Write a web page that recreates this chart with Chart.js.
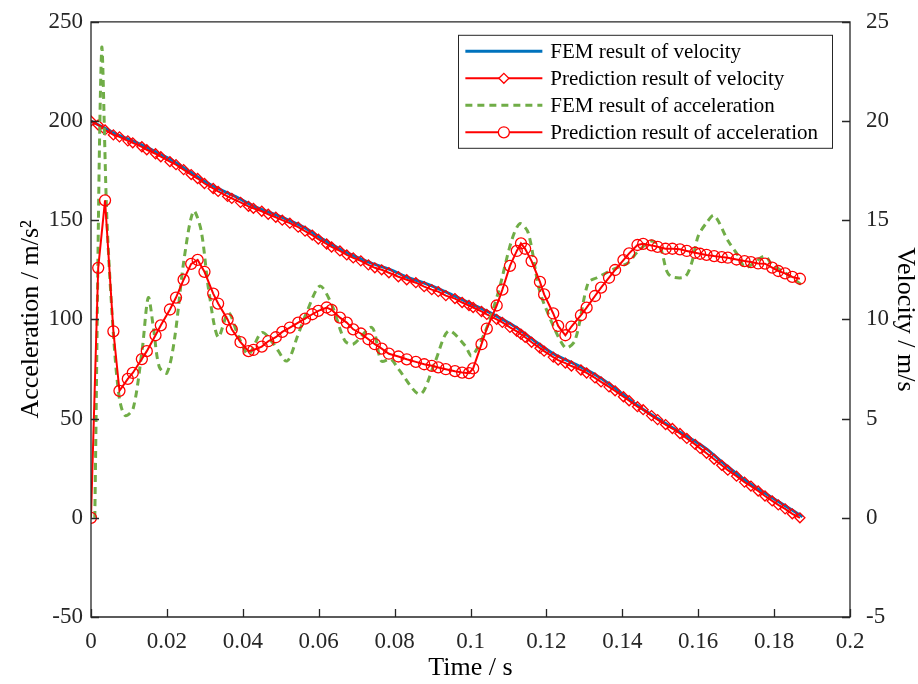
<!DOCTYPE html>
<html>
<head>
<meta charset="utf-8">
<script src="https://cdn.jsdelivr.net/npm/chart.js@4.4.1/dist/chart.umd.min.js"></script>
<style>
  html, body { margin: 0; padding: 0; background: #fff; }
  #wrap { width: 918px; height: 684px; }
</style>
</head>
<body>
<div id="wrap"><canvas id="velChart" width="918" height="684"></canvas></div>
<script>
// Data
// **************************************
const xTicks = [0, 0.02, 0.04, 0.06, 0.08, 0.1, 0.12, 0.14, 0.16, 0.18, 0.2];
const accelTicks = [-50, 0, 50, 100, 150, 200, 250];
const velTicks = [-5, 0, 5, 10, 15, 20, 25];

const seriesLabels = [
  'FEM result of velocity',
  'Prediction result of velocity',
  'FEM result of acceleration',
  'Prediction result of acceleration',
];

// FEM velocity (m/s)
const femVelTime = [0, 0.004, 0.007, 0.011, 0.015, 0.018, 0.022, 0.026, 0.03, 0.034, 0.038, 0.043,
  0.049, 0.056, 0.061, 0.067, 0.073, 0.079, 0.083, 0.089, 0.095, 0.1, 0.106, 0.112, 0.117, 0.122,
  0.127, 0.133, 0.138, 0.143, 0.148, 0.154, 0.158, 0.162, 0.167, 0.172, 0.1775, 0.183, 0.1875];
const femVel = [20.0, 19.6, 19.3, 19.0, 18.65, 18.35, 17.95, 17.45, 16.95, 16.55, 16.2, 15.7,
  15.25, 14.65, 14.05, 13.4, 12.9, 12.5, 12.15, 11.75, 11.25, 10.8, 10.25, 9.6, 8.9, 8.25,
  7.8, 7.2, 6.55, 5.8, 5.15, 4.45, 4.0, 3.5, 2.7, 1.95, 1.25, 0.6, 0.05];

// FEM acceleration (m/s^2)
const femAccTime = [0.001, 0.0028, 0.0042, 0.006, 0.0075, 0.009, 0.0111, 0.0135, 0.0151, 0.0165,
  0.018, 0.02, 0.022, 0.0245, 0.027, 0.029, 0.031, 0.0335, 0.0362, 0.0388, 0.0415, 0.045, 0.048,
  0.0516, 0.0545, 0.0568, 0.0603, 0.0634, 0.0669, 0.0691, 0.074, 0.0765, 0.079, 0.081, 0.0867,
  0.0906, 0.0942, 0.0986, 0.1003, 0.1038, 0.1073, 0.1108, 0.113, 0.1152, 0.1179, 0.1196, 0.1249,
  0.1275, 0.131, 0.1333, 0.1376, 0.1416, 0.1438, 0.1477, 0.15, 0.1517, 0.153, 0.1565, 0.1583,
  0.16, 0.1622, 0.1642, 0.1679, 0.1706, 0.1723, 0.1741, 0.1776, 0.1794, 0.1829, 0.1877];
const femAcc = [0, 236, 150, 90, 60, 51.5, 55, 85, 111, 95,
  76, 73, 90, 130, 154.6, 145, 115, 91, 103.4, 91.7, 82.4, 93.4, 88,
  79, 92, 103.4, 116.8, 107.6, 89.2, 87.5, 95.9, 79, 80, 75, 62.3,
  78.3, 94.2, 86.7, 81.6, 93.4, 113.5, 139.5, 148.3, 143.7, 116.8, 106.8, 85.8,
  89.2, 118.5, 121, 125.2, 128.6, 133.6, 139.5, 136.1, 124.4, 121.5, 121.5, 128.6,
  142, 148.7, 152.4, 139.5, 131.9, 126, 127.7, 131.9, 127.7, 123.5, 116.8];

// Prediction samples (shared time base)
const predTime = [0, 0.0019, 0.0037, 0.0059, 0.0075, 0.0097, 0.011, 0.0134, 0.0147, 0.017,
  0.0184, 0.0208, 0.0224, 0.0244, 0.0264, 0.0281, 0.0299, 0.0322, 0.0335, 0.036,
  0.0371, 0.0394, 0.0415, 0.0428, 0.045, 0.0467, 0.0487, 0.0504, 0.0524, 0.0546,
  0.0564, 0.0583, 0.0599, 0.0621, 0.0634, 0.0656, 0.0674, 0.0691, 0.0711, 0.0731,
  0.0748, 0.0766, 0.0785, 0.081, 0.0832, 0.0856, 0.0878, 0.0898, 0.0915, 0.0935,
  0.0959, 0.0978, 0.0996, 0.1007, 0.1029, 0.1043, 0.1069, 0.1084, 0.1104, 0.1122,
  0.1133, 0.1144, 0.1161, 0.1183, 0.1194, 0.1218, 0.1231, 0.125, 0.1266, 0.1291,
  0.1306, 0.1328, 0.1344, 0.1365, 0.1381, 0.1403, 0.1418, 0.144, 0.1455, 0.1477,
  0.1493, 0.1514, 0.1532, 0.1552, 0.157, 0.1592, 0.1605, 0.1622, 0.1642, 0.1662,
  0.1678, 0.1701, 0.1722, 0.1739, 0.1758, 0.1776, 0.1795, 0.1811, 0.1829, 0.1848, 0.1868];
const predAcc = [0, 126, 160, 94, 64, 70, 73, 80, 84, 92,
  97, 105, 111, 120, 128, 130, 124, 113, 108, 100,
  95, 88.5, 84, 84.6, 86.3, 89, 91, 93.7, 95.9, 98.4,
  100.4, 102.6, 104.3, 106, 104.8, 100.9, 98.4, 95, 92.9, 90,
  87.5, 85.3, 82.7, 81.3, 79.9, 78.6, 77.4, 76.6, 75.8, 74.9,
  73.9, 73.2, 72.9, 75.3, 87.5, 95.4, 107, 115, 127, 134.5,
  138.3, 135.6, 129.4, 118.9, 112.6, 103, 96.7, 92, 96.4, 102.1,
  105.9, 111.8, 116, 121, 124.9, 129.9, 133.3, 137.5, 138.1, 137.3,
  136.6, 135.6, 135.6, 135.3, 134.5, 133.6, 133.1, 132.5, 131.9, 131.4,
  131.1, 130.2, 129.4, 128.9, 128.2, 128.1, 126.1, 124.4, 123.2, 121.4, 120.5];
const predVel = [20.0, 19.8, 19.55, 19.3, 19.2, 19.0, 18.9, 18.7, 18.55, 18.35,
  18.2, 17.95, 17.8, 17.55, 17.3, 17.1, 16.85, 16.6, 16.45, 16.2,
  16.1, 15.9, 15.7, 15.6, 15.45, 15.3, 15.15, 15.0, 14.85, 14.65,
  14.45, 14.25, 14.05, 13.8, 13.65, 13.45, 13.25, 13.1, 12.95, 12.75,
  12.6, 12.5, 12.35, 12.15, 12.0, 11.85, 11.65, 11.5, 11.4, 11.2,
  11.05, 10.85, 10.7, 10.6, 10.4, 10.25, 10.0, 9.85, 9.6, 9.4,
  9.25, 9.1, 8.85, 8.55, 8.4, 8.1, 7.95, 7.8, 7.65, 7.45,
  7.3, 7.05, 6.85, 6.6, 6.4, 6.1, 5.9, 5.6, 5.45, 5.15,
  4.95, 4.7, 4.5, 4.25, 4.0, 3.7, 3.5, 3.25, 2.95, 2.65,
  2.4, 2.1, 1.8, 1.6, 1.35, 1.1, 0.85, 0.65, 0.45, 0.2, 0.0];

const toPoints = (xs, ys) => xs.map((x, i) => ({ x: x, y: ys[i] }));

const AXIS_COLOR = '#262626';
const SERIF = "'Liberation Serif', 'Times New Roman', serif";

// Box + inward ticks like MATLAB
// **************************************
const matlabAxes = {
  id: 'matlabAxes',
  afterDatasetsDraw(chart) {
    const { ctx, chartArea: a, scales } = chart;
    const tl = 8;
    ctx.save();
    ctx.strokeStyle = AXIS_COLOR;
    ctx.lineWidth = 1.3;
    ctx.beginPath();
    ctx.rect(a.left, a.top, a.right - a.left, a.bottom - a.top);
    ctx.stroke();
    ctx.beginPath();
    scales.x.ticks.forEach((t) => {
      const px = Math.round(scales.x.getPixelForValue(t.value)) + 0.5;
      ctx.moveTo(px, a.bottom);
      ctx.lineTo(px, a.bottom - tl);
    });
    scales.y.ticks.forEach((t) => {
      const py = Math.round(scales.y.getPixelForValue(t.value)) + 0.5;
      ctx.moveTo(a.left, py);
      ctx.lineTo(a.left + tl, py);
    });
    scales.y1.ticks.forEach((t) => {
      const py = Math.round(scales.y1.getPixelForValue(t.value)) + 0.5;
      ctx.moveTo(a.right, py);
      ctx.lineTo(a.right - tl, py);
    });
    ctx.stroke();
    ctx.restore();
  },
};

// Legend drawn inside the axes (top right)
// **************************************
const insideLegend = {
  id: 'insideLegend',
  afterDraw(chart) {
    const { ctx, chartArea: a } = chart;
    const items = chart.data.datasets;
    const rowH = 27;
    const sampleW = 77;
    ctx.save();
    ctx.font = '21px ' + SERIF;
    const textW = Math.max(...items.map((d) => ctx.measureText(d.label).width));
    const w = 7 + sampleW + 8 + textW + 14;
    const h = items.length * rowH + 5;
    const x0 = a.right - 18 - w;
    const y0 = a.top + 13;
    ctx.fillStyle = '#fff';
    ctx.fillRect(x0, y0, w, h);
    ctx.strokeStyle = AXIS_COLOR;
    ctx.lineWidth = 1;
    ctx.strokeRect(Math.round(x0) + 0.5, y0 + 0.5, Math.round(w), h);
    items.forEach((d, i) => {
      const cy = y0 + 3 + rowH * i + rowH / 2;
      const sx0 = x0 + 7;
      const sx1 = sx0 + sampleW;
      ctx.strokeStyle = d.borderColor;
      ctx.lineWidth = d.borderWidth;
      ctx.setLineDash(d.borderDash || []);
      ctx.beginPath();
      ctx.moveTo(sx0, cy);
      ctx.lineTo(sx1, cy);
      ctx.stroke();
      ctx.setLineDash([]);
      if (d.pointRadius > 0) {
        ctx.strokeStyle = d.pointBorderColor;
        ctx.fillStyle = '#fff';
        ctx.lineWidth = d.pointBorderWidth;
        Chart.helpers.drawPoint(ctx, {
          pointStyle: d.pointStyle,
          radius: d.pointRadius,
          rotation: 0,
          borderWidth: d.pointBorderWidth,
        }, (sx0 + sx1) / 2, cy);
      }
      ctx.fillStyle = '#000';
      ctx.textBaseline = 'middle';
      ctx.textAlign = 'left';
      ctx.fillText(d.label, sx1 + 8, cy + 1);
    });
    ctx.restore();
  },
};

const tickCallback = (value) => String(Number(value.toFixed(4)));

const config = {
  type: 'line',
  data: {
    datasets: [
      {
        label: seriesLabels[0],
        data: toPoints(femVelTime, femVel),
        yAxisID: 'y1',
        borderColor: '#0072BD',
        borderWidth: 3,
        pointRadius: 0,
        tension: 0.3,
        order: 4,
      },
      {
        label: seriesLabels[1],
        data: toPoints(predTime, predVel),
        yAxisID: 'y1',
        borderColor: '#FF0000',
        borderWidth: 2,
        pointStyle: 'rectRot',
        pointRadius: 5,
        pointBorderWidth: 1.3,
        pointBorderColor: '#FF0000',
        pointBackgroundColor: 'rgba(255,255,255,0)',
        tension: 0,
        order: 3,
      },
      {
        label: seriesLabels[2],
        data: toPoints(femAccTime, femAcc),
        yAxisID: 'y',
        borderColor: '#70AD47',
        borderWidth: 3,
        borderDash: [7, 5],
        pointRadius: 0,
        tension: 0.3,
        order: 2,
      },
      {
        label: seriesLabels[3],
        data: toPoints(predTime, predAcc),
        yAxisID: 'y',
        borderColor: '#FF0000',
        borderWidth: 2,
        pointStyle: 'circle',
        pointRadius: 5.5,
        pointBorderWidth: 1.3,
        pointBorderColor: '#FF0000',
        pointBackgroundColor: 'rgba(255,255,255,0)',
        tension: 0,
        order: 1,
      },
    ],
  },
  options: {
    responsive: false,
    animation: false,
    devicePixelRatio: 1,
    layout: { padding: { top: 18, left: 0, right: 0, bottom: 0 } },
    plugins: {
      legend: { display: false },
      tooltip: { enabled: false },
    },
    scales: {
      x: {
        type: 'linear',
        min: 0,
        max: 0.2,
        afterBuildTicks: (s) => { s.ticks = xTicks.map((v) => ({ value: v })); },
        afterFit: (s) => { s.height = 67; },
        grid: { display: false },
        border: { display: false },
        ticks: {
          callback: tickCallback,
          color: AXIS_COLOR,
          font: { family: SERIF, size: 23 },
          padding: 3,
          maxRotation: 0,
          autoSkip: false,
        },
        title: {
          display: true,
          text: 'Time / s',
          color: '#000',
          font: { family: SERIF, size: 26, lineHeight: 1.2 },
          padding: { top: 0, bottom: 0 },
        },
      },
      y: {
        position: 'left',
        min: -50,
        max: 250,
        afterBuildTicks: (s) => { s.ticks = accelTicks.map((v) => ({ value: v })); },
        afterFit: (s) => { s.width = 91; },
        grid: { display: false },
        border: { display: false },
        ticks: {
          color: AXIS_COLOR,
          font: { family: SERIF, size: 23 },
          padding: 0,
        },
        title: {
          display: true,
          text: 'Acceleration / m/s²',
          color: '#000',
          font: { family: SERIF, size: 26, lineHeight: 1.2 },
          padding: { top: 16, bottom: 0 },
        },
      },
      y1: {
        position: 'right',
        min: -5,
        max: 25,
        afterBuildTicks: (s) => { s.ticks = velTicks.map((v) => ({ value: v })); },
        afterFit: (s) => { s.width = 68; },
        grid: { display: false },
        border: { display: false },
        ticks: {
          color: AXIS_COLOR,
          font: { family: SERIF, size: 23 },
          padding: 8,
        },
        title: {
          display: true,
          text: 'Velocity / m/s',
          color: '#000',
          font: { family: SERIF, size: 26, lineHeight: 1 },
          padding: { top: 0, bottom: 0 },
        },
      },
    },
  },
  plugins: [matlabAxes, insideLegend],
};

// Render
new Chart(document.getElementById('velChart'), config);
</script>
</body>
</html>
